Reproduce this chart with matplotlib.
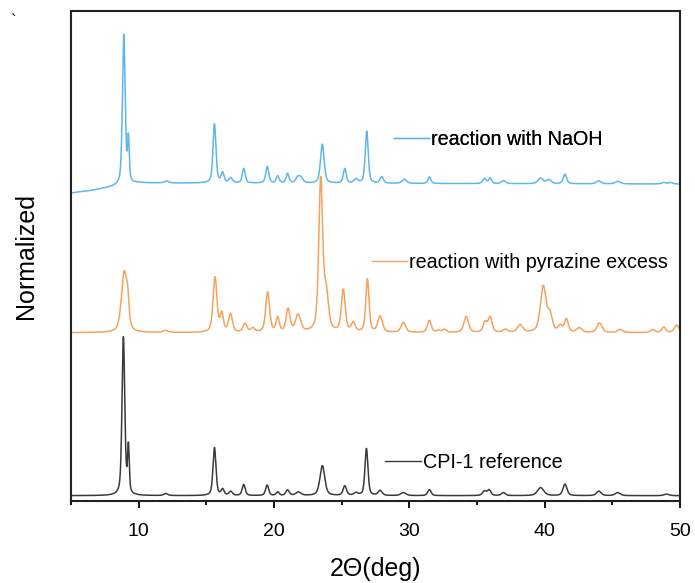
import numpy as np
import matplotlib
matplotlib.use('Agg')
import matplotlib.pyplot as plt
from matplotlib.ticker import MultipleLocator
from matplotlib.lines import Line2D

plt.rcParams['font.family'] = ['Liberation Sans', 'DejaVu Sans']

# Peak lists: 2theta position, height, FWHM
# heights are in plot units (the three patterns are stacked with offsets)
cpi_pos = [8.87, 9.24, 12.0, 15.6, 16.2, 16.8, 17.76, 19.49, 20.27, 21.0, 21.8,
           23.57, 25.23, 26.06, 26.83, 27.84, 29.56, 31.48, 35.55, 35.9, 36.95,
           39.7, 41.5, 44.0, 45.4, 49.0]
cpi_height = [1.58, 0.46, 0.02, 0.48, 0.06, 0.04, 0.11, 0.105, 0.035, 0.055, 0.035,
              0.30, 0.095, 0.025, 0.47, 0.05, 0.03, 0.06, 0.045, 0.055, 0.03,
              0.08, 0.115, 0.045, 0.03, 0.015]
cpi_width = [0.24, 0.15, 0.35, 0.26, 0.26, 0.3, 0.27, 0.27, 0.25, 0.3, 0.45,
             0.42, 0.3, 0.35, 0.26, 0.35, 0.45, 0.3, 0.35, 0.3, 0.35,
             0.55, 0.35, 0.4, 0.45, 0.45]
cpi_offset = 0.053

pyr_pos = [8.94, 9.19, 12.0, 15.64, 16.14, 16.78, 17.86, 18.43, 19.53, 20.27,
           21.04, 21.78, 23.45, 23.85, 25.12, 25.86, 26.9, 27.84, 29.56, 31.48,
           32.15, 32.6, 34.2, 35.6, 35.97, 37.1, 38.19, 39.9, 40.4, 41.14, 41.6,
           42.55, 44.05, 45.58, 47.97, 48.8, 49.75]
pyr_height = [0.61, 0.17, 0.02, 0.55, 0.18, 0.18, 0.085, 0.04, 0.40, 0.14,
              0.23, 0.17, 1.51, 0.36, 0.42, 0.09, 0.53, 0.16, 0.10, 0.12,
              0.02, 0.03, 0.16, 0.10, 0.15, 0.03, 0.075, 0.46, 0.16, 0.06, 0.13,
              0.045, 0.095, 0.03, 0.03, 0.055, 0.075]
pyr_width = [0.5, 0.18, 0.45, 0.34, 0.28, 0.34, 0.34, 0.34, 0.34, 0.28,
             0.34, 0.45, 0.34, 0.4, 0.34, 0.34, 0.28, 0.4, 0.4, 0.34,
             0.34, 0.34, 0.4, 0.34, 0.34, 0.4, 0.45, 0.5, 0.4, 0.34, 0.34,
             0.45, 0.45, 0.45, 0.4, 0.34, 0.4]
pyr_offset = 1.683

naoh_pos = [8.9, 9.24, 12.07, 15.6, 16.2, 16.8, 17.76, 19.5, 20.27, 21.0, 21.75,
            22.0, 23.57, 25.23, 26.06, 26.85, 27.96, 29.63, 31.48, 35.55, 35.97,
            36.95, 39.7, 40.3, 41.5, 44.0, 45.4, 48.8, 49.3]
naoh_height = [1.50, 0.43, 0.02, 0.59, 0.10, 0.05, 0.145, 0.165, 0.07, 0.095, 0.055,
               0.05, 0.39, 0.145, 0.04, 0.52, 0.065, 0.04, 0.065, 0.05, 0.055,
               0.03, 0.055, 0.04, 0.095, 0.03, 0.025, 0.015, 0.015]
naoh_width = [0.24, 0.15, 0.35, 0.26, 0.26, 0.3, 0.26, 0.26, 0.25, 0.26, 0.35,
              0.35, 0.32, 0.26, 0.35, 0.26, 0.3, 0.4, 0.26, 0.3, 0.26,
              0.35, 0.45, 0.4, 0.3, 0.4, 0.45, 0.35, 0.35]
naoh_offset = 3.18
# background of the NaOH pattern (lower below the first peak)
naoh_bg_x = [5.0, 6.5, 8.0, 10.0, 50.0]
naoh_bg_y = [-0.10, -0.075, -0.04, 0.0, -0.01]

labels = ['CPI-1 reference', 'reaction with pyrazine excess', 'reaction with NaOH']
colors = ['#3a3a3a', '#f4a35c', '#5db7ec']


def pattern(x, pos, height, width, eta=0.5):
    """Pseudo-Voigt sum of the listed peaks."""
    y = np.zeros_like(x)
    for p, h, w in zip(pos, height, width):
        d = (x - p) / (w / 2)
        gauss = np.exp(-np.log(2) * d ** 2)
        lorentz = 1 / (1 + d ** 2)
        y += h * (eta * lorentz + (1 - eta) * gauss)
    return y


two_theta = np.linspace(5, 50, 4501)
curves = [
    cpi_offset + pattern(two_theta, cpi_pos, cpi_height, cpi_width),
    pyr_offset + pattern(two_theta, pyr_pos, pyr_height, pyr_width),
    naoh_offset + np.interp(two_theta, naoh_bg_x, naoh_bg_y)
    + pattern(two_theta, naoh_pos, naoh_height, naoh_width),
]

fig = plt.figure(figsize=(6.95, 5.83), dpi=100)
ax = fig.add_axes([0.1022, 0.1407, 0.8762, 0.8404])

for curve, color in zip(curves, colors):
    ax.plot(two_theta, curve, color=color, lw=1.1)

ax.set_xlim(5, 50)
ax.set_ylim(0, 4.9)
ax.set_xticks([10, 20, 30, 40, 50])
ax.xaxis.set_minor_locator(MultipleLocator(5))
ax.tick_params(axis='x', which='major', direction='out', length=5, width=1.3,
               labelsize=14, pad=11)
ax.tick_params(axis='x', which='minor', direction='out', length=3, width=1.3)
ax.set_yticks([])
for spine in ax.spines.values():
    spine.set_linewidth(1.5)
    spine.set_color('#222222')

ax.set_xlabel('2\u0398(deg)', fontsize=18, labelpad=12)
ax.set_ylabel('Normalized', fontsize=18, labelpad=24)

# one small legend next to each pattern
legend_anchors = [(0.516, 0.078), (0.494, 0.486), (0.530, 0.737)]
for label, color, anchor in zip(labels, colors, legend_anchors):
    handle = Line2D([], [], color=color, lw=1.0)
    leg = ax.legend([handle], [label], loc='center left', bbox_to_anchor=anchor,
                    frameon=False, fontsize=14.2, handlelength=1.8,
                    handletextpad=0.1, borderpad=0, borderaxespad=0)
    ax.add_artist(leg)

fig.text(0.015, 0.955, '`', fontsize=12)

fig.savefig('out.png', dpi=100)
